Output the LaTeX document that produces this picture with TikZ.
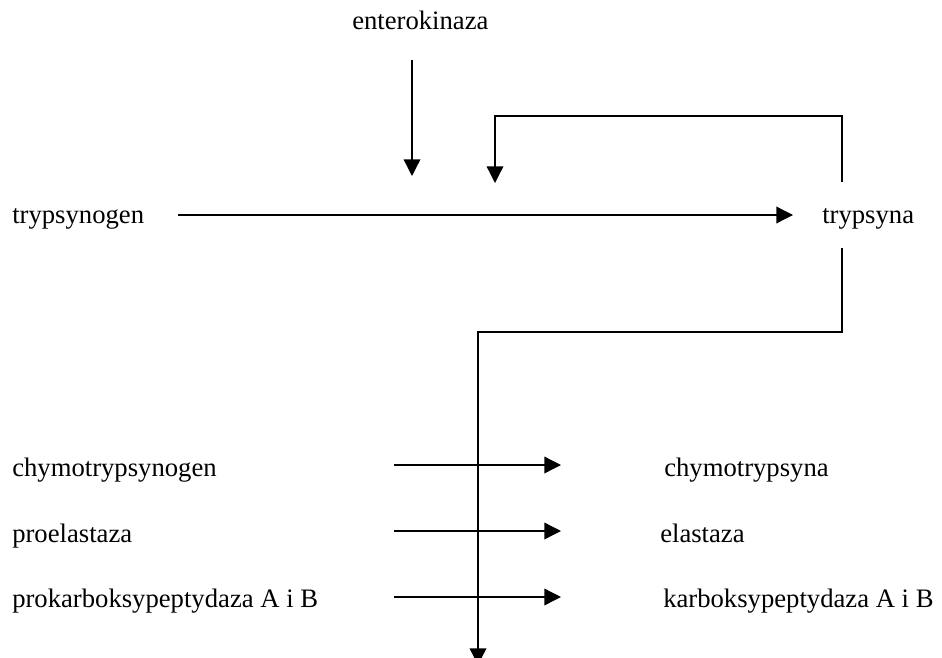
\documentclass[tikz,border=0pt]{standalone}
\usepackage{fontspec}
\setmainfont{Liberation Serif}
\usetikzlibrary{arrows.meta}

\begin{document}
\begin{tikzpicture}[x=0.75pt, y=-0.75pt,
  lbl/.style={anchor=base west, inner sep=0pt, font=\fontsize{20}{24}\selectfont},
  arr/.style={-{Triangle[length=12.5pt, width=12.5pt]}, line width=1pt}]
\useasboundingbox (0,0) rectangle (942,657);
% enzymes and zymogens
\node[lbl] (ent) at (352,29) {enterokinaza};
\node[lbl] (tgen) at (12,223) {trypsynogen};
\node[lbl] (tryp) at (822,223) {trypsyna};
\node[lbl] (chgen) at (12,476) {chymotrypsynogen};
\node[lbl] (chym) at (664,476) {chymotrypsyna};
\node[lbl] (proel) at (12,542) {proelastaza};
\node[lbl] (elas) at (660,542) {elastaza};
\node[lbl] (prokb) at (12,607) {prokarboksypeptydaza A i B};
\node[lbl] (karb) at (663,607) {karboksypeptydaza A i B};
% arrow ends
\coordinate (t0) at (178,215);
\coordinate (t1) at (793,215);
\coordinate (ek0) at (412,60);
\coordinate (ek1) at (412,176);
\coordinate (fb0) at (842,182);
\coordinate (fb1) at (495,183);
\coordinate (dn0) at (842,248);
\coordinate (dn1) at (478,665);
\coordinate (c0) at (394,465);
\coordinate (c1) at (561,465);
\coordinate (e0) at (394,531);
\coordinate (e1) at (561,531);
\coordinate (k0) at (394,597);
\coordinate (k1) at (561,597);
% connectors
\draw[arr] (t0) -- (t1);
\draw[arr] (ek0) -- (ek1);
\draw[arr] (fb0) -- ++(0,-66) -| (fb1);
\draw[arr] (dn0) -- ++(0,84) -| (dn1);
\draw[arr] (c0) -- (c1);
\draw[arr] (e0) -- (e1);
\draw[arr] (k0) -- (k1);
\end{tikzpicture}
\end{document}
